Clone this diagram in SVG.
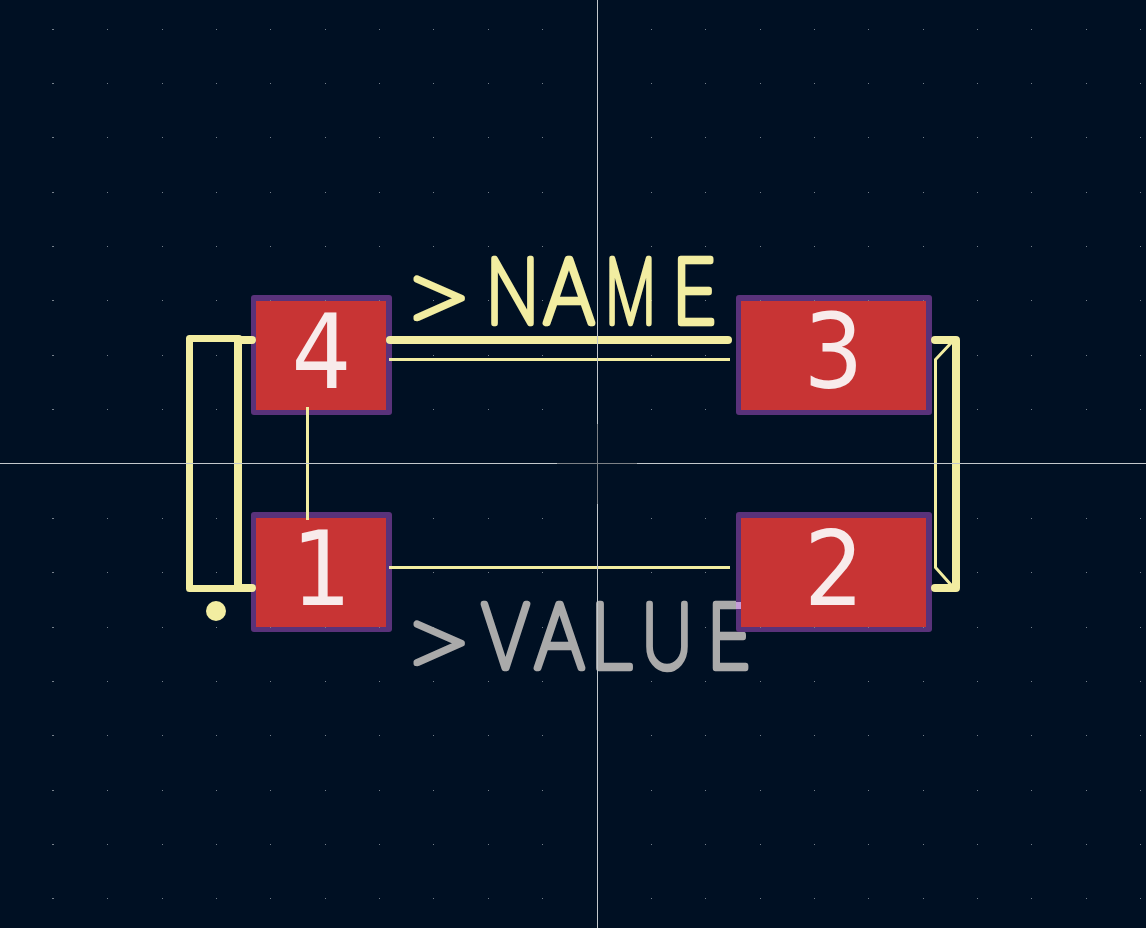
<svg xmlns="http://www.w3.org/2000/svg" width="1146" height="928" viewBox="0 0 1146 928">
<style>
.purple{fill:#59327a}.red{fill:#c83434}
.num{font-family:"DejaVu Sans",sans-serif;font-size:104px;fill:#f8ebeb;text-anchor:middle}
.fab{font-family:"Inter","Liberation Sans",sans-serif;font-weight:100;font-size:88px;stroke-width:6.5px;stroke-linejoin:round;stroke-linecap:round}
.chev{font-size:77px;stroke-width:5px}
.thick{fill:none;stroke:#f2eda1;stroke-width:8;stroke-linecap:round;stroke-linejoin:round}
.mid{fill:none;stroke:#f2eda1;stroke-width:7;stroke-linecap:round;stroke-linejoin:round}
.thin{fill:none;stroke:#f2eda1;stroke-width:3;stroke-linejoin:miter}
.dot{fill:#76808b;shape-rendering:crispEdges}
.axis{shape-rendering:crispEdges}
</style>
<defs>
<path id="row" class="dot" d="M52 0h2v1h-2zM107 0h1v1h-1zM162 0h1v1h-1zM216 0h1v1h-1zM270 0h1v1h-1zM325 0h1v1h-1zM379 0h1v1h-1zM433 0h1v1h-1zM488 0h1v1h-1zM542 0h1v1h-1zM651 0h1v1h-1zM705 0h1v1h-1zM760 0h1v1h-1zM814 0h1v1h-1zM868 0h1v1h-1zM923 0h1v1h-1zM977 0h1v1h-1zM1031 0h1v1h-1zM1086 0h1v1h-1zM1140 0h1v1h-1z"/>
</defs>
<rect width="1146" height="928" fill="#001023"/>
<g id="grid">
<use href="#row" y="29"/><use href="#row" y="83"/><use href="#row" y="137"/><use href="#row" y="192"/><use href="#row" y="246"/><use href="#row" y="300"/><use href="#row" y="355"/><use href="#row" y="409"/><use href="#row" y="518"/><use href="#row" y="572"/><use href="#row" y="627"/><use href="#row" y="681"/><use href="#row" y="735"/><use href="#row" y="790"/><use href="#row" y="844"/><use href="#row" y="898"/>
</g>
<g id="value-label">
<text class="fab" fill="#aaaaaa" stroke="#aaaaaa"><tspan class="chev" x="401" y="665" textLength="72" lengthAdjust="spacingAndGlyphs">&gt;</tspan><tspan x="481" y="668" textLength="49" lengthAdjust="spacingAndGlyphs">V</tspan><tspan x="534" y="668" textLength="51" lengthAdjust="spacingAndGlyphs">A</tspan><tspan x="590" y="668" textLength="45" lengthAdjust="spacingAndGlyphs">L</tspan><tspan x="642" y="668" textLength="50" lengthAdjust="spacingAndGlyphs">U</tspan><tspan x="707" y="668" textLength="44" lengthAdjust="spacingAndGlyphs">E</tspan></text>
</g>
<g id="pad-4">
<rect class="purple" x="251" y="295" width="141" height="120" rx="3"/>
<path class="dot" d="M270 300h1v1h-1zM325 300h1v1h-1zM379 300h1v1h-1z"/>
<rect class="red" x="256" y="301" width="130" height="109"/>
<text class="num" x="321.500" y="388" textLength="60" lengthAdjust="spacingAndGlyphs">4</text>
</g>
<g id="pad-1">
<rect class="purple" x="251" y="512" width="141" height="120" rx="3"/>
<path class="dot" d="M270 627h1v1h-1zM325 627h1v1h-1zM379 627h1v1h-1z"/>
<rect class="red" x="256" y="518" width="130" height="109"/>
<text class="num" x="321.500" y="605" textLength="60" lengthAdjust="spacingAndGlyphs">1</text>
</g>
<g id="pad-3">
<rect class="purple" x="736" y="295" width="196" height="120" rx="3"/>
<path class="dot" d="M760 300h1v1h-1zM814 300h1v1h-1zM868 300h1v1h-1zM923 300h1v1h-1z"/>
<rect class="red" x="741" y="301" width="185" height="109"/>
<text class="num" x="833.500" y="388" textLength="60" lengthAdjust="spacingAndGlyphs">3</text>
</g>
<g id="pad-2">
<rect class="purple" x="736" y="512" width="196" height="120" rx="3"/>
<path class="dot" d="M760 627h1v1h-1zM814 627h1v1h-1zM868 627h1v1h-1zM923 627h1v1h-1z"/>
<rect class="red" x="741" y="518" width="185" height="109"/>
<rect x="736" y="602" width="5" height="7" fill="#c69bd9"/>
<text class="num" x="834" y="605" textLength="60" lengthAdjust="spacingAndGlyphs">2</text>
</g>
<g id="name-label">
<text class="fab" fill="#f2eda1" stroke="#f2eda1"><tspan class="chev" x="401" y="320" textLength="72" lengthAdjust="spacingAndGlyphs">&gt;</tspan><tspan x="486" y="323" textLength="53" lengthAdjust="spacingAndGlyphs">N</tspan><tspan x="543" y="323" textLength="52" lengthAdjust="spacingAndGlyphs">A</tspan><tspan x="605" y="323" textLength="51" lengthAdjust="spacingAndGlyphs">M</tspan><tspan x="672" y="323" textLength="45" lengthAdjust="spacingAndGlyphs">E</tspan></text>
</g>
<g id="connectors">
<path class="thick" d="M390 340H728"/>
<path class="mid" d="M239 338.500H189.500V588.500H239"/>
<path class="thick" d="M238 340V588M238 340H252M238 588H252"/>
<path class="thick" d="M935 340H956V588H935"/>
<path class="thin" d="M389 359.500H730M389 567.500H730M307.500 407V520"/>
<path class="thin" d="M952 342L935.500 359.500V567.500L952 586"/>
<circle cx="216" cy="611" r="10" fill="#f2eda1"/>
</g>
<g id="crosshair" class="axis">
<rect x="597" y="0" width="1" height="424" fill="#c3c8cc"/>
<rect x="597" y="504" width="1" height="424" fill="#c3c8cc"/>
<rect x="597" y="424" width="1" height="80" fill="#7c8186"/>
<rect x="0" y="463" width="557" height="1" fill="#c3c8cc"/>
<rect x="637" y="463" width="509" height="1" fill="#c3c8cc"/>
<rect x="557" y="463" width="80" height="1" fill="#7c8186"/>
</g>
</svg>
